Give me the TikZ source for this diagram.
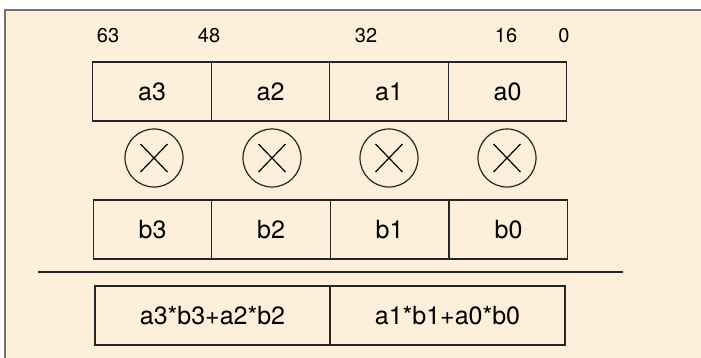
\documentclass[tikz,border=0pt]{standalone}
\usepackage{fontspec}
\setmainfont{TeX Gyre Heros}
\usetikzlibrary{positioning,calc}
\definecolor{panel}{RGB}{253,239,218}

\begin{document}
\begin{tikzpicture}[
    x=0.5pt, y=-0.5pt,
    every node/.style={font=\fontsize{12.5}{14}\selectfont},
    reg/.style={rectangle, draw=black!85, line width=0.7pt, inner sep=0pt,
        minimum width=59.25pt, minimum height=29.5pt},
    sum/.style={reg, minimum width=117.5pt},
    mul/.style={circle, draw=black!85, line width=0.6pt, inner sep=0pt,
        minimum size=29pt},
    bit/.style={font=\fontsize{10}{12}\selectfont},
    rule/.style={draw=black!85, line width=1.2pt},
]
    \useasboundingbox (0,0) rectangle (701,358);
    % Panel
    \fill[panel] (5,10) rectangle (701,358);
    \draw[black!55, line width=0.7pt] (5,358) |- (701,10);

    % Bit positions
    \node[bit] (p63) at (108,36) {63};
    \node[bit] (p48) at (209,36) {48};
    \node[bit] (p32) at (366,36) {32};
    \node[bit] (p16) at (506,36) {16};
    \node[bit] (p0)  at (564,36) {0};

    % Register a
    \node[reg] (a3) at (152,91.5)   {a3};
    \node[reg] (a2) at (270.5,91.5) {a2};
    \node[reg] (a1) at (389,91.5)   {a1};
    \node[reg] (a0) at (507.5,91.5) {a0};

    % Multipliers
    \foreach \n/\x in {m3/154, m2/272, m1/389, m0/507}
        \node[mul] (\n) at (\x,158) {};
    \foreach \n in {m3, m2, m1, m0} {
        \draw[line width=0.6pt] ([shift={(-13.5,-14)}]\n.center) -- ([shift={(13.5,14)}]\n.center);
        \draw[line width=0.6pt] ([shift={(-13.5,14)}]\n.center) -- ([shift={(13.5,-14)}]\n.center);
    }

    % Register b
    \node[reg] (b3) at (152.5,229.5) {b3};
    \node[reg] (b2) at (271,229.5)   {b2};
    \node[reg] (b1) at (389.5,229.5) {b1};
    \node[reg] (b0) at (508.5,229.5) {b0};

    % Rule
    \coordinate (rl) at (38,272);
    \coordinate (rr) at (623,272);
    \draw[rule] (rl) -- (rr);

    % Result
    \node[sum] (s1) at (212.5,315.5) {a3*b3+a2*b2};
    \node[sum] (s0) at (447.5,315.5) {a1*b1+a0*b0};
\end{tikzpicture}
\end{document}
